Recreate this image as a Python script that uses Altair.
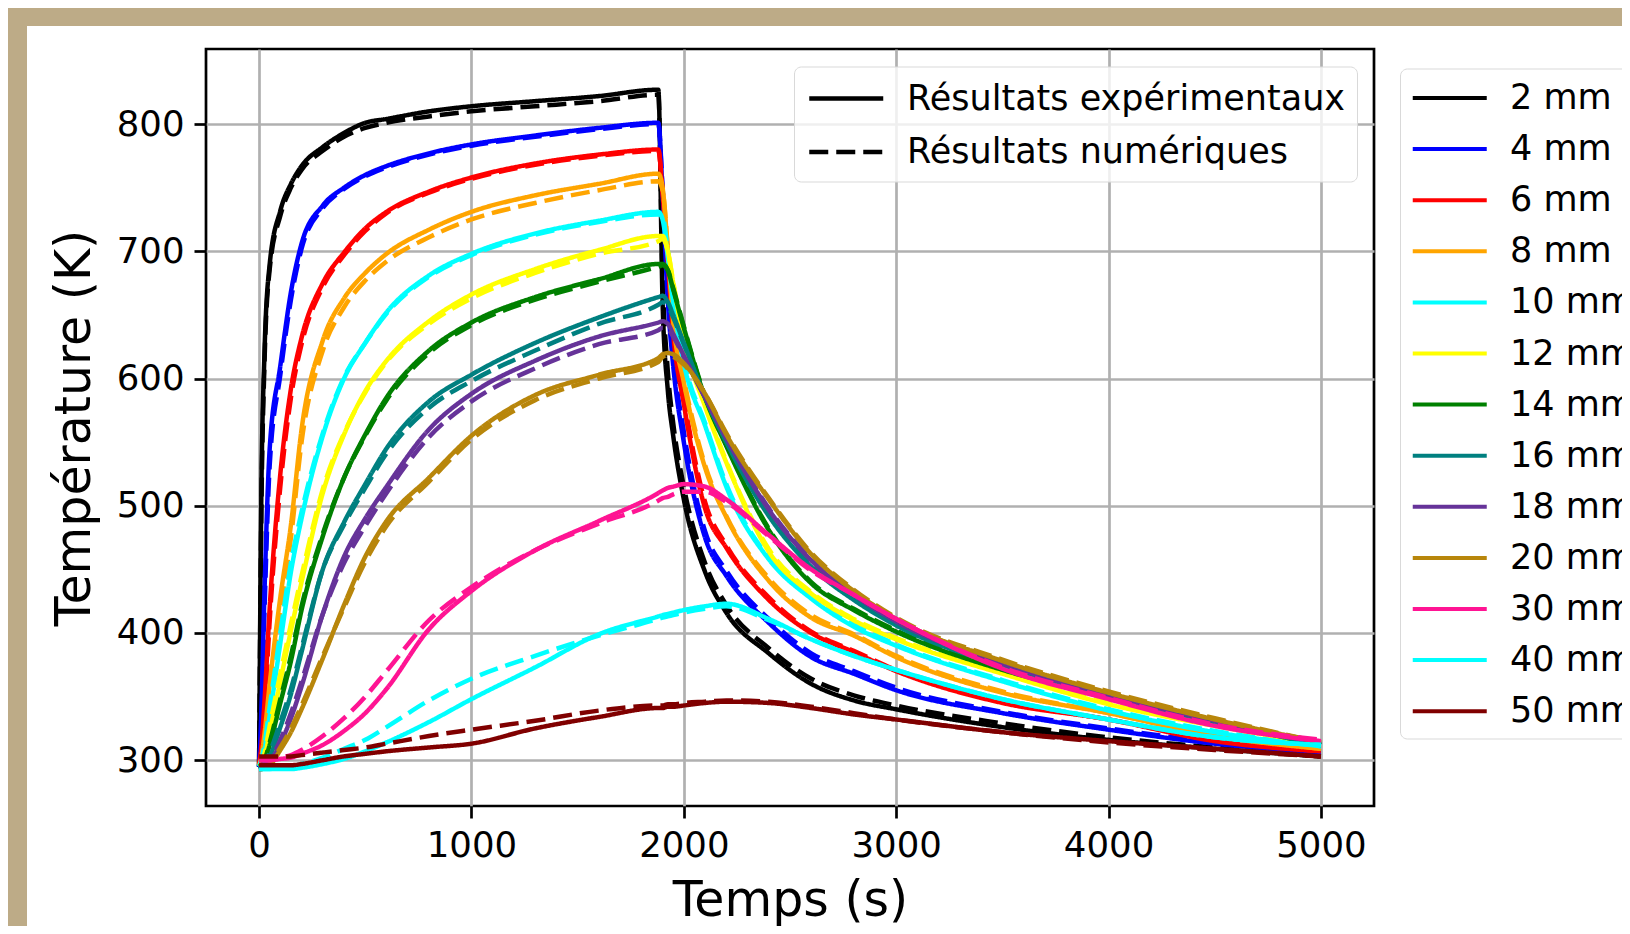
import altair as alt
import pandas as pd

# ---------------- data ----------------
TIME_S = [0, 10, 25, 50, 100, 150, 200, 300, 400, 500, 600, 800, 1000, 1300, 1600, 1880,
          1900, 1925, 1950, 2000, 2100, 2200, 2400, 2600, 2800, 3000, 3500, 4000, 4500, 5000]

THICKNESS = ["2 mm", "4 mm", "6 mm", "8 mm", "10 mm", "12 mm", "14 mm",
             "16 mm", "18 mm", "20 mm", "30 mm", "40 mm", "50 mm"]
COLORS = ["#000000", "#0000ff", "#ff0000", "#ffa500", "#00ffff", "#ffff00", "#008000",
          "#008080", "#663399", "#b8860b", "#ff1493", "#00ffff", "#800000"]
KINDS = ["Résultats expérimentaux", "Résultats numériques"]

EXP_2 = [295, 500, 618, 690, 732, 753, 767, 782, 793, 801, 804, 810, 814, 818, 822, 827,
         660, 590, 555, 505, 448, 416, 384, 360, 347, 340, 326, 316, 309, 303]
NUM_2 = [295, 485, 610, 686, 728, 750, 764, 779, 790, 797, 801, 806, 810, 814, 818, 823,
         680, 605, 565, 515, 455, 422, 388, 364, 351, 343, 329, 318, 310, 303]
EXP_4 = [295, 335, 430, 545, 610, 668, 706, 736, 750, 760, 767, 777, 784, 791, 797, 801,
         745, 660, 610, 550, 475, 445, 408, 381, 368, 355, 337, 324, 313, 306]
NUM_4 = [295, 325, 415, 532, 603, 662, 702, 734, 749, 759, 766, 776, 783, 790, 796, 800,
         750, 670, 618, 558, 480, 449, 411, 384, 370, 357, 338, 325, 314, 306]
EXP_6 = [297, 310, 345, 420, 525, 592, 632, 675, 699, 718, 731, 747, 758, 769, 776, 780,
         745, 690, 635, 580, 498, 467, 426, 400, 385, 370, 345, 332, 315, 307]
NUM_6 = [297, 305, 335, 410, 515, 585, 627, 672, 697, 716, 730, 746, 757, 768, 775, 779,
         748, 695, 642, 585, 503, 469, 428, 401, 386, 371, 346, 332, 316, 307]
EXP_8 = [296, 302, 320, 360, 428, 485, 560, 630, 663, 683, 698, 717, 731, 744, 753, 761,
         750, 700, 645, 597, 530, 491, 441, 412, 398, 381, 353, 337, 319, 309]
NUM_8 = [296, 300, 315, 352, 418, 475, 550, 622, 656, 677, 692, 711, 725, 738, 748, 755,
         748, 702, 648, 600, 532, 492, 443, 414, 399, 382, 354, 337, 320, 309]
EXP_10 = [295, 298, 308, 335, 392, 448, 490, 555, 600, 628, 652, 681, 698, 714, 724, 731,
          725, 695, 660, 612, 563, 515, 458, 427, 405, 390, 362, 339, 322, 311]
NUM_10 = [295, 300, 312, 342, 400, 455, 495, 557, 601, 628, 651, 680, 697, 713, 723, 729,
          727, 700, 665, 615, 565, 517, 459, 428, 407, 391, 363, 340, 323, 311]
EXP_12 = [295, 296, 302, 322, 362, 402, 440, 510, 556, 590, 614, 645, 666, 686, 701, 712,
          712, 700, 675, 630, 578, 534, 464, 431, 410, 395, 368, 344, 327, 313]
NUM_12 = [295, 297, 305, 327, 368, 407, 445, 513, 557, 589, 613, 643, 663, 683, 698, 708,
          710, 700, 676, 632, 580, 535, 466, 432, 411, 396, 369, 345, 328, 313]
EXP_14 = [295, 296, 299, 312, 345, 378, 418, 476, 522, 556, 585, 622, 644, 664, 678, 690,
          690, 685, 670, 640, 585, 547, 481, 439, 418, 401, 371, 350, 330, 312]
NUM_14 = [295, 296, 300, 314, 348, 382, 421, 478, 522, 555, 583, 620, 642, 662, 676, 688,
          689, 685, 671, 641, 586, 548, 482, 440, 419, 402, 372, 350, 331, 312]
EXP_16 = [293, 294, 296, 303, 326, 352, 385, 450, 487, 517, 545, 582, 603, 628, 648, 664,
          665, 660, 650, 628, 585, 550, 492, 452, 426, 406, 374, 350, 330, 312]
NUM_16 = [293, 294, 297, 306, 330, 356, 388, 450, 485, 514, 541, 577, 598, 622, 643, 658,
          660, 657, 648, 627, 585, 551, 493, 453, 427, 407, 375, 351, 331, 312]
EXP_18 = [293, 293, 295, 299, 313, 333, 358, 415, 460, 490, 515, 560, 588, 614, 633, 644,
          645, 643, 635, 618, 585, 553, 497, 457, 430, 409, 376, 351, 331, 313]
NUM_18 = [293, 293, 295, 300, 316, 337, 362, 415, 455, 484, 510, 554, 582, 608, 627, 638,
          640, 639, 633, 617, 585, 554, 498, 458, 431, 410, 377, 352, 332, 313]
EXP_20 = [293, 293, 294, 296, 308, 322, 340, 380, 422, 460, 488, 522, 555, 587, 603, 616,
          619, 620, 619, 612, 588, 556, 505, 462, 433, 411, 378, 353, 332, 314]
NUM_20 = [293, 293, 294, 297, 310, 325, 343, 382, 420, 456, 484, 519, 552, 583, 600, 613,
          617, 618, 617, 611, 588, 557, 506, 463, 434, 412, 379, 354, 333, 314]
EXP_30 = [300, 300, 300, 300, 301, 302, 305, 312, 323, 337, 356, 403, 433, 465, 488, 510,
          512, 514, 515, 517, 515, 505, 477, 450, 430, 411, 372, 348, 327, 315]
NUM_30 = [300, 300, 300, 300, 302, 304, 308, 319, 333, 350, 370, 410, 436, 465, 486, 504,
          506, 507, 509, 511, 511, 503, 476, 449, 430, 411, 373, 349, 328, 316]
EXP_40 = [293, 293, 293, 293, 293, 293, 294, 297, 301, 307, 314, 330, 348, 373, 399, 413,
          414, 415, 416, 418, 421, 423, 411, 395, 382, 371, 348, 332, 318, 312]
NUM_40 = [293, 293, 293, 293, 294, 295, 297, 302, 309, 316, 326, 347, 364, 382, 398, 411,
          412, 413, 414, 416, 419, 421, 410, 395, 382, 371, 348, 332, 318, 312]
EXP_50 = [296, 296, 296, 296, 296, 296, 297, 300, 303, 305, 307, 310, 313, 325, 334, 341,
          341, 342, 342, 343, 345, 346, 345, 341, 336, 332, 322, 315, 309, 303]
NUM_50 = [303, 303, 303, 303, 303, 303, 304, 306, 308, 310, 313, 319, 324, 331, 339, 343,
          343, 344, 344, 345, 346, 347, 346, 342, 337, 332, 322, 314, 308, 303]

SERIES = [
    ("2 mm", EXP_2, NUM_2), ("4 mm", EXP_4, NUM_4), ("6 mm", EXP_6, NUM_6),
    ("8 mm", EXP_8, NUM_8), ("10 mm", EXP_10, NUM_10), ("12 mm", EXP_12, NUM_12),
    ("14 mm", EXP_14, NUM_14), ("16 mm", EXP_16, NUM_16), ("18 mm", EXP_18, NUM_18),
    ("20 mm", EXP_20, NUM_20), ("30 mm", EXP_30, NUM_30), ("40 mm", EXP_40, NUM_40),
    ("50 mm", EXP_50, NUM_50),
]

X_TICKS = [0, 1000, 2000, 3000, 4000, 5000]
Y_TICKS = [300, 400, 500, 600, 700, 800]

rows = []
for order, (name, exp, num) in enumerate(SERIES):
    for kind_i, vals in enumerate((exp, num)):
        for t, temp in zip(TIME_S, vals):
            rows.append({"t": t, "T": temp, "ep": name, "kind": KINDS[kind_i],
                         "grp": order * 2 + kind_i})
df = pd.DataFrame(rows)

TAN = "#bdab87"
FONT = "DejaVu Sans"
LINE_SYMBOL = "M-2,0L2,0"

dummy = pd.DataFrame({"k": [0]})
band_top = alt.Chart(dummy).mark_rect(color=TAN).encode(
    x=alt.value(-200), x2=alt.value(1700), y=alt.value(-45), y2=alt.value(-23))
band_left = alt.Chart(dummy).mark_rect(color=TAN).encode(
    x=alt.value(-200), x2=alt.value(-179), y=alt.value(-45), y2=alt.value(900))

lines = alt.Chart(df).mark_line(strokeWidth=4.5, interpolate="monotone", strokeJoin="round").encode(
    x=alt.X("t:Q", scale=alt.Scale(domain=[-250, 5250], nice=False, zero=False),
            axis=alt.Axis(values=X_TICKS, title="Temps (s)", format="d",
                          titlePadding=13)),
    y=alt.Y("T:Q", scale=alt.Scale(domain=[264, 859], nice=False, zero=False),
            axis=alt.Axis(values=Y_TICKS, title="Température (K)", format="d",
                          titlePadding=17)),
    color=alt.Color("ep:N", sort=THICKNESS,
                    scale=alt.Scale(domain=THICKNESS, range=COLORS),
                    legend=alt.Legend(title=None, orient="none", legendX=1194, legendY=19.5,
                                      symbolType=LINE_SYMBOL, symbolSize=1369,
                                      symbolOffset=20.25, symbolStrokeWidth=4,
                                      labelFontSize=35, labelFont=FONT, labelColor="black",
                                      labelOffset=39.75, rowPadding=12.1, padding=9,
                                      labelLimit=1000, fillColor="white",
                                      strokeColor="#d9d9d9", cornerRadius=7)),
    strokeDash=alt.StrokeDash("kind:N", sort=KINDS,
                              scale=alt.Scale(domain=KINDS, range=[[1, 0], [19, 8]]),
                              legend=alt.Legend(title=None, orient="none", legendX=588, legendY=17.5,
                                                symbolType=LINE_SYMBOL, symbolSize=1369,
                                                symbolOffset=20.25, symbolStrokeWidth=4.5,
                                                symbolStrokeColor="black",
                                                labelFontSize=35, labelFont=FONT,
                                                labelColor="black", labelOffset=39.75,
                                                rowPadding=14.4, padding=11, labelLimit=1000,
                                                fillColor="rgba(255,255,255,0.8)",
                                                strokeColor="#d9d9d9", cornerRadius=7)),
    detail="grp:N",
)

chart = alt.layer(band_top, band_left, lines).properties(
    width=1168, height=757,
    autosize=alt.AutoSizeParams(type="none"),
    padding={"left": 198, "top": 41, "right": 248, "bottom": 120},
).configure(
    font=FONT, background="white"
).configure_view(
    stroke="black", strokeWidth=2.7
).configure_axis(
    grid=True, gridColor="#b0b0b0", gridWidth=2.7, gridOpacity=1,
    domain=False, ticks=True, tickColor="black", tickWidth=2.7, tickSize=12,
    labelFontSize=35.5, labelColor="black", labelFont=FONT, labelPadding=10,
    titleFontSize=49, titleFontWeight="normal", titleColor="black", titleFont=FONT,
)

chart.save("out.html", embed_options={"renderer": "svg", "actions": False})
